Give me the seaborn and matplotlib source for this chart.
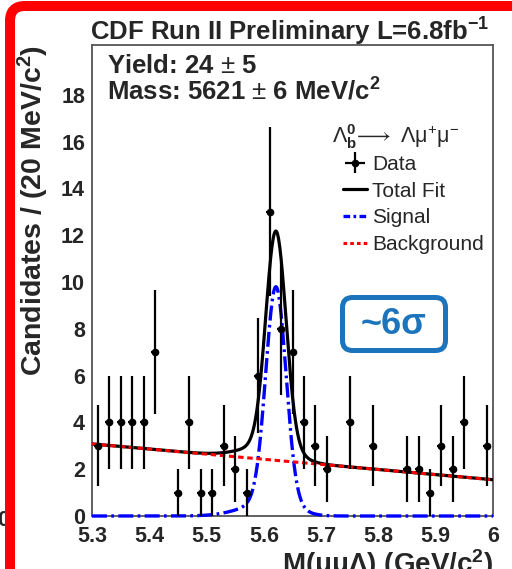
import numpy as np
import pandas as pd
import matplotlib
matplotlib.use("Agg")
import matplotlib.pyplot as plt
import seaborn as sns
from matplotlib.patches import FancyBboxPatch
from matplotlib.lines import Line2D

# ---------------- data ----------------
bin_centers = [5.31, 5.33, 5.35, 5.37, 5.39, 5.41, 5.43, 5.45, 5.47, 5.49,
               5.51, 5.53, 5.55, 5.57, 5.59, 5.61, 5.63, 5.65, 5.67, 5.69,
               5.71, 5.73, 5.75, 5.77, 5.79, 5.81, 5.83, 5.85, 5.87, 5.89,
               5.91, 5.93, 5.95, 5.97, 5.99]
counts = [3, 4, 4, 4, 4, 7, 0, 1, 4, 1,
          1, 3, 2, 1, 6, 13, 8, 7, 4, 3,
          2, 0, 4, 0, 3, 0, 0, 2, 2, 1,
          3, 2, 4, 0, 3]

# fit model parameters
bkg_at_lo = 3.08      # background level at 5.3
bkg_at_hi = 1.55      # background level at 6.0
sig_mean = 5.621
core_amp = 9.1
core_sigma = 0.0175
tail_amp = 0.7
tail_sigma_lo = 0.05
tail_sigma_hi = 0.033

x_ticks = [5.3, 5.4, 5.5, 5.6, 5.7, 5.8, 5.9, 6.0]
x_ticklabels = ["5.3", "5.4", "5.5", "5.6", "5.7", "5.8", "5.9", "6"]
y_ticks = [0, 2, 4, 6, 8, 10, 12, 14, 16, 18]
y_ticklabels = ["0", "2", "4", "6", "8", "10", "12", "14", "16", "18"]

# ---------------- style ----------------
sns.set_theme(style="white")
plt.rcParams["font.family"] = ["Liberation Sans", "DejaVu Sans"]
plt.rcParams["mathtext.fontset"] = "custom"
plt.rcParams["mathtext.rm"] = "Liberation Sans"
plt.rcParams["mathtext.it"] = "Liberation Sans:italic"
plt.rcParams["mathtext.bf"] = "Liberation Sans:bold"

W, H = 512, 569
fig = plt.figure(figsize=(W / 100, H / 100), dpi=100)
fig.patch.set_facecolor("white")
ax_l, ax_r, ax_t, ax_b = 92, 493, 45, 516
ax = fig.add_axes([ax_l / W, 1 - ax_b / H, (ax_r - ax_l) / W, (ax_b - ax_t) / H])

# ---------------- fit curves ----------------
xf = np.linspace(5.3, 6.0, 701)
bkg = bkg_at_lo + (bkg_at_hi - bkg_at_lo) * (xf - 5.3) / 0.7
tail_sig = np.where(xf < sig_mean, tail_sigma_lo, tail_sigma_hi)
signal = (core_amp * np.exp(-0.5 * ((xf - sig_mean) / core_sigma) ** 2)
          + tail_amp * np.exp(-0.5 * ((xf - sig_mean) / tail_sig) ** 2))
total = bkg + signal
curves = pd.DataFrame({"m": xf, "total": total, "signal": signal, "bkg": bkg})

sns.lineplot(data=curves, x="m", y="total", ax=ax, color="black", lw=2.3,
             sort=False, estimator=None, zorder=3)
sns.lineplot(data=curves, x="m", y="signal", ax=ax, color="#0000ff", lw=2.4,
             sort=False, estimator=None, zorder=4)
ax.lines[-1].set_dashes((4.5, 1.3, 0.8, 1.3))
ax.lines[-1].set_clip_on(False)
sns.lineplot(data=curves, x="m", y="bkg", ax=ax, color="#ff0000", lw=2.2,
             sort=False, estimator=None, zorder=5)
ax.lines[-1].set_dashes((1.8, 1.2))

# ---------------- data points ----------------
df = pd.DataFrame({"m": bin_centers, "n": counts})
df = df[df["n"] > 0]
err = np.sqrt(df["n"].values)
eb = ax.errorbar(df["m"], df["n"], yerr=err, xerr=0.007, fmt="o", color="black",
                 ms=4.5, elinewidth=1.6, capsize=0, zorder=6)

# ---------------- axes ----------------
ax.set_xlim(5.3, 6.0)
ax.set_ylim(0, (ax_b - ax_t) / 23.4)
ax.set_xticks(x_ticks)
ax.set_xticklabels(x_ticklabels, fontweight="bold", fontsize=15.5)
ax.set_yticks(y_ticks)
ax.set_yticklabels(y_ticklabels, fontweight="bold", fontsize=15.5)
ax.set_xticks(np.arange(5.3, 6.0001, 0.02), minor=True)
ax.set_yticks(np.arange(0, 20.01, 0.5), minor=True)
ax.tick_params(which="major", direction="in", length=11, width=1.2, color="#777777",
               top=False, right=False)
ax.tick_params(which="minor", direction="in", length=6, width=1.0, color="#777777",
               top=False, right=False)
ax.tick_params(axis="y", which="major", pad=5)
ax.tick_params(axis="x", which="major", pad=7)
for s in ax.spines.values():
    s.set_color("#555555")
    s.set_linewidth(1.3)
ax.set_xlabel("")
ax.set_ylabel("")

# ---------------- texts ----------------
fig.text(90 / W, 1 - 41 / H, r"CDF Run II Preliminary L=6.8fb$^{\mathbf{-1}}$",
         ha="left", va="baseline", fontsize=18.5, fontweight="bold")
fig.text(107 / W, 1 - 73 / H, r"Yield: 24 $\pm$ 5",
         ha="left", va="baseline", fontsize=18.5, fontweight="bold")
fig.text(107 / W, 1 - 100 / H, r"Mass: 5621 $\pm$ 6 MeV/c$^{\mathbf{2}}$",
         ha="left", va="baseline", fontsize=18.5, fontweight="bold")
fig.text(42 / W, 1 - 45 / H, r"Candidates / (20 MeV/c$^{\mathbf{2}}$)",
         rotation=90, rotation_mode="anchor", ha="right", va="baseline",
         fontsize=20.5, fontweight="bold")
fig.text(493 / W, 1 - 573 / H, "M(μμΛ) (GeV/c$^{\\mathbf{2}}$)",
         ha="right", va="baseline", fontsize=20, fontweight="bold")
fig.text(9 / W, 1 - 520 / H, "0", ha="right", va="center", fontsize=15.5,
         fontweight="bold")

# legend header
ax.text((332 - ax_l) / (ax_r - ax_l), (ax_b - 143) / (ax_b - ax_t),
        r"Λ$^{\mathbf{0}}_{\mathbf{b}}\!\longrightarrow$ Λμ$^{+}$μ$^{-}$",
        transform=ax.transAxes, ha="left", va="baseline", fontsize=15.5)

h_total = Line2D([], [], color="black", lw=2.3)
h_sig = Line2D([], [], color="#0000ff", lw=2.4, dashes=(2.0, 1.0, 0.8, 1.0))
h_bkg = Line2D([], [], color="#ff0000", lw=2.2, dashes=(1.2, 1.0))
leg = ax.legend([eb, h_total, h_sig, h_bkg], ["Data", "Total Fit", "Signal", "Background"],
                loc="upper left",
                bbox_to_anchor=((343 - ax_l) / (ax_r - ax_l), (ax_b - 155) / (ax_b - ax_t)),
                frameon=False, fontsize=15, handlelength=1.15, handletextpad=0.25,
                labelspacing=0.37, borderpad=0, borderaxespad=0)

# ~6 sigma box
box_col = "#1c75bc"
fig.patches.append(FancyBboxPatch((342.5 / 100, (H - 350.5) / 100), 103 / 100, 53 / 100,
                                  boxstyle="round,pad=0,rounding_size=0.1",
                                  transform=fig.dpi_scale_trans, fill=False,
                                  edgecolor=box_col, lw=3.6, zorder=10))
fig.text(394 / W, 1 - 324 / H, "~6σ", ha="center", va="center", fontsize=26,
         fontweight="bold", color=box_col, zorder=11)

# red slide border
fig.patches.append(FancyBboxPatch((10 / 100, -1.0), 6.0, (H - 6) / 100 + 1.0,
                                  boxstyle="round,pad=0,rounding_size=0.15",
                                  transform=fig.dpi_scale_trans, fill=False,
                                  edgecolor="#ff0000", lw=7.2, zorder=12))

fig.savefig("out.png", dpi=100)
